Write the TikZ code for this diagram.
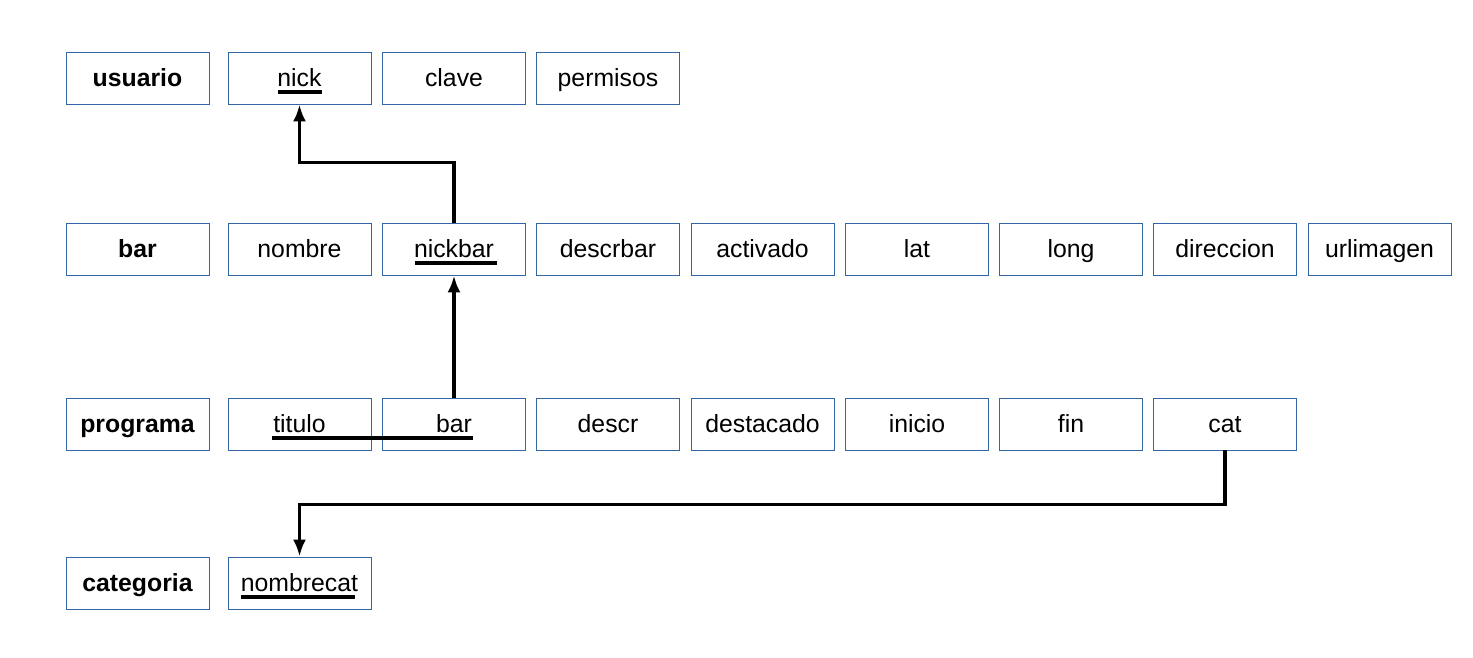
\documentclass[tikz,border=0pt]{standalone}
\usepackage{fontspec}
\setmainfont{Liberation Sans}
\usetikzlibrary{arrows.meta}
\definecolor{boxblue}{RGB}{52,101,164}
\begin{document}
\begin{tikzpicture}[
    x=1pt,y=-1pt,
    every node/.style={font=\fontsize{24.8}{30}\selectfont},
    attr/.style={draw=boxblue, line width=0.9pt, minimum width=143pt, minimum height=52pt, inner sep=0pt, text height=19pt, text depth=3pt},
    entity/.style={attr, font=\fontsize{24.8}{30}\selectfont\bfseries},
    link/.style={line width=3.4pt, -{Latex[length=17pt,width=13pt]}},
    uline/.style={line width=3.6pt}
]
    \useasboundingbox (0,0) rectangle (1473,657);

    % tables
    \node[entity] (usuario) at (137.5,78) {usuario};
    \node[entity] (bar) at (137.5,249) {bar};
    \node[entity] (programa) at (137.5,424) {programa};
    \node[entity] (categoria) at (137.5,583) {categoria};

    \foreach \x/\n in {299.5/nick,454/clave,608/permisos} {
        \node[attr] (u-\n) at (\x,78) {\n};
    }
    \foreach \x/\n in {299.5/nombre,454/nickbar,608/descrbar,762.5/activado,917/lat,1071/long,1225/direccion,1379.5/urlimagen} {
        \node[attr] (b-\n) at (\x,249) {\n};
    }
    \foreach \x/\n in {299.5/titulo,454/bar,608/descr,762.5/destacado,917/inicio,1071/fin,1225/cat} {
        \node[attr] (p-\n) at (\x,424) {\n};
    }
    \node[attr] (c-nombrecat) at (299.5,583) {nombrecat};

    % keys
    \foreach \n/\w/\s in {u-nick/22/0,b-nickbar/41/2,c-nombrecat/57/-1.5} {
        \draw[uline] ([xshift=\s pt-\w pt,yshift=-14pt]\n.center) -- ([xshift=\s pt+\w pt,yshift=-14pt]\n.center);
    }
    \draw[uline] ([xshift=-27.5pt,yshift=-14pt]p-titulo.center) -- ([xshift=19pt,yshift=-14pt]p-bar.center);

    % references
    \draw[link] (b-nickbar.north) -- ++(0,-60) -| (u-nick.south);
    \draw[link] (p-bar.north) -- (b-nickbar.south);
    \draw[link] (p-cat.south) -- ++(0,54) -| (c-nombrecat.north);
\end{tikzpicture}
\end{document}
